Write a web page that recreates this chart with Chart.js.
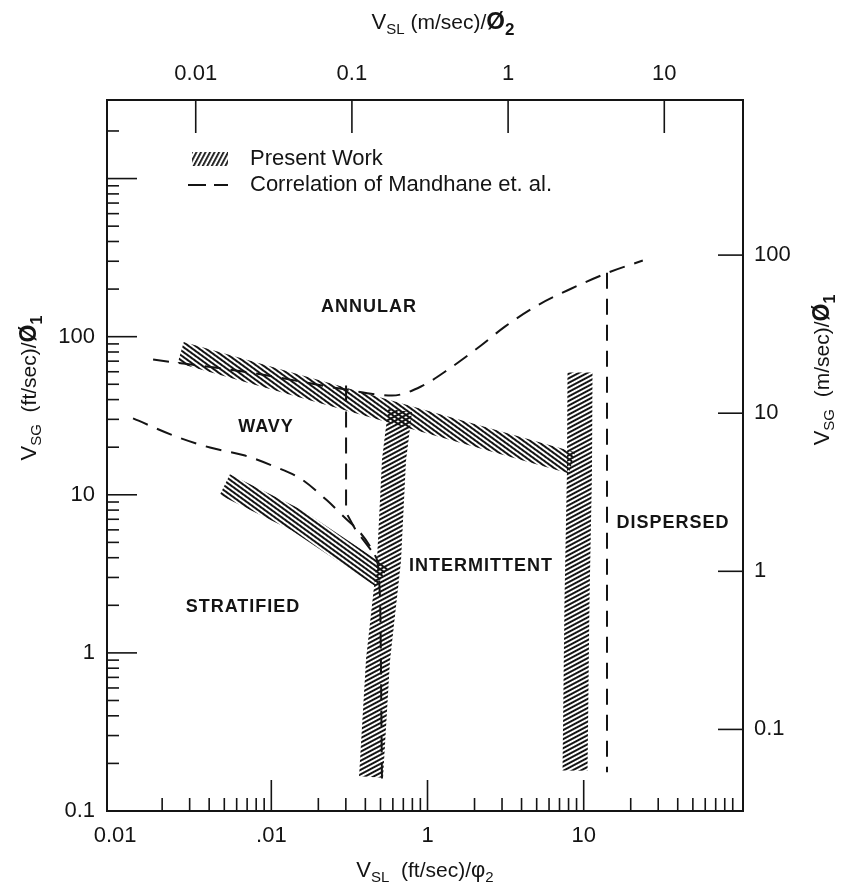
<!DOCTYPE html>
<html>
<head>
<meta charset="utf-8">
<script src="https://cdn.jsdelivr.net/npm/chart.js@4.4.1/dist/chart.umd.min.js"></script>
<style>
  html, body { margin: 0; background: #fff; }
  #wrap { width: 841px; height: 894px; }
</style>
</head>
<body>
<div id="wrap"><canvas id="c"></canvas></div>
<script>
const FT_PER_M = 3.2808;
const INK = '#141414';
const FONT = '"Liberation Sans", Arial, sans-serif';

// axis ranges (ft/sec); the m/sec axes are the same range divided by FT_PER_M
const X_MIN = 0.00887, X_MAX = 104.7;
const Y_MIN = 0.1, Y_MAX = 3140;

// tick labels
const X_TICKS = [0.01, 0.1, 1, 10];
const X_LABELS = ['0.01', '.01', '1', '10'];
const X2_TICKS = [0.01, 0.1, 1, 10];
const X2_LABELS = ['0.01', '0.1', '1', '10'];
const Y_TICKS = [0.1, 1, 10, 100];
const Y_LABELS = ['0.1', '1', '10', '100'];
const Y2_TICKS = [0.1, 1, 10, 100];
const Y2_LABELS = ['0.1', '1', '10', '100'];

// Present Work bands (ft/sec)
const bandUpperX = [0.0263, 8.41];
const bandUpperY = [79.4, 15.9];
const bandLowerX = [0.0504, 0.146, 0.511];
const bandLowerY = [11.6, 6.9, 3.02];
const bandMidX = [0.667, 0.610, 0.567, 0.482, 0.435];
const bandMidY = [34.1, 16.5, 3.86, 0.90, 0.164];
const bandRightX = [9.47, 9.40, 9.06, 8.80];
const bandRightY = [59.3, 14.3, 2.15, 0.18];

// Correlation of Mandhane et al. (dashed)
const mandTopX = [0.0175, 0.0731, 0.275, 0.592, 0.909, 1.414, 2.20, 3.13, 5.17, 8.29, 14.3, 23.9];
const mandTopY = [71.6, 59.3, 47.0, 42.4, 48.4, 63.8, 87.9, 115.8, 159.6, 201, 254, 303];
const mandWavyX = [0.01302, 0.0253, 0.0405, 0.0678, 0.101, 0.153, 0.227, 0.319, 0.461, 0.497, 0.511];
const mandWavyY = [30.4, 23.1, 19.9, 17.7, 15.3, 12.7, 9.22, 6.69, 4.14, 2.15, 0.157];
const mandSlugX = [0.301, 0.301, 0.348, 0.461];
const mandSlugY = [49.1, 7.74, 5.96, 4.14];
const mandDispX = [14.1, 14.1];
const mandDispY = [254, 0.176];

// flow regime names and where they sit (ft/sec)
const REGIONS = ['ANNULAR', 'WAVY', 'STRATIFIED', 'INTERMITTENT', 'DISPERSED'];
const REGION_X = [0.422, 0.0925, 0.0659, 2.20, 37.3];
const REGION_Y = [155, 26.7, 1.95, 3.53, 6.59];

const pts = (xs, ys) => xs.map((x, i) => ({ x, y: ys[i] }));

function hatch(angle, gap, lw) {
  const tile = document.createElement('canvas');
  tile.width = 8; tile.height = gap;
  const g = tile.getContext('2d');
  g.fillStyle = INK;
  g.fillRect(0, 0, 8, lw);
  const p = g.createPattern(tile, 'repeat');
  p.setTransform(new DOMMatrix().rotate(angle));
  return p;
}

const hatchDown = hatch(36, 4.4, 2);
const hatchUp = hatch(-28, 4.4, 2);
const hatchLegend = hatch(-62, 4.5, 1.8);

const band = (xs, ys, pattern, w) => ({
  data: pts(xs, ys),
  borderColor: pattern,
  borderWidth: w,
  borderCapStyle: 'butt',
  borderJoinStyle: 'round',
  tension: 0,
});
const dashed = (xs, ys, smooth) => ({
  data: pts(xs, ys),
  borderColor: INK,
  borderWidth: 2,
  borderDash: [16, 10],
  cubicInterpolationMode: smooth ? 'monotone' : 'default',
  tension: 0,
});

// inward tick marks on all four sides
function minors(decades, maxV) {
  const out = [];
  for (const d of decades) for (let k = 2; k <= 9; k++) if (d * k < maxV) out.push(d * k);
  return out;
}
const tickMarks = {
  id: 'tickMarks',
  afterDraw(chart) {
    const { ctx, chartArea: a, scales } = chart;
    ctx.save();
    ctx.strokeStyle = INK;
    ctx.lineWidth = 1.6;
    const mark = (x1, y1, x2, y2) => { ctx.beginPath(); ctx.moveTo(x1, y1); ctx.lineTo(x2, y2); ctx.stroke(); };
    for (const v of minors([0.01, 0.1, 1, 10], 100)) {
      const p = scales.x.getPixelForValue(v);
      mark(p, a.bottom, p, a.bottom - 13);
    }
    for (const v of [0.1, 1, 10]) {
      const p = scales.x.getPixelForValue(v);
      mark(p, a.bottom, p, a.bottom - 31);
    }
    for (const v of minors([0.1, 1, 10, 100, 1000], 2500)) {
      const p = scales.y.getPixelForValue(v);
      mark(a.left, p, a.left + 12, p);
    }
    for (const v of [1, 10, 100, 1000]) {
      const p = scales.y.getPixelForValue(v);
      mark(a.left, p, a.left + 30, p);
    }
    for (const v of X2_TICKS) {
      const p = scales.x2.getPixelForValue(v);
      mark(p, a.top, p, a.top + 33);
    }
    for (const v of Y2_TICKS) {
      const p = scales.y2.getPixelForValue(v);
      mark(a.right, p, a.right - 25, p);
    }
    ctx.restore();
  }
};

// text with subscripts, centred on (x, y), optionally rotated
function drawRich(ctx, x, y, rot, parts) {
  ctx.save();
  ctx.translate(x, y);
  ctx.rotate(rot);
  ctx.fillStyle = INK;
  ctx.textBaseline = 'alphabetic';
  ctx.textAlign = 'left';
  let w = 0;
  for (const p of parts) { ctx.font = p[1]; w += ctx.measureText(p[0]).width; }
  let cx = -w / 2;
  for (const p of parts) {
    ctx.font = p[1];
    ctx.fillText(p[0], cx, 7 + (p[2] || 0));
    cx += ctx.measureText(p[0]).width;
  }
  ctx.restore();
}

const annotations = {
  id: 'annotations',
  afterDraw(chart) {
    const { ctx, chartArea: a, scales } = chart;
    const big = `22px ${FONT}`, mid = `21px ${FONT}`, sub = `15px ${FONT}`;
    drawRich(ctx, 443, 22, 0, [['V', big], ['SL', sub, 5], [' (m/sec)/', mid], ['Ø', `bold 24px ${FONT}`], ['2', `bold 17px ${FONT}`, 6]]);
    drawRich(ctx, 425, 870, 0, [['V', big], ['SL', sub, 5], ['  (ft/sec)/', mid], ['φ', big], ['2', sub, 5]]);
    drawRich(ctx, 29, 388, -Math.PI / 2, [['V', big], ['SG', sub, 5], ['  (ft/sec)/', mid], ['Ø', `bold 23px ${FONT}`], ['1', `bold 16px ${FONT}`, 6]]);
    drawRich(ctx, 822, 370, -Math.PI / 2, [['V', big], ['SG', sub, 5], ['  (m/sec)/', mid], ['Ø', `bold 23px ${FONT}`], ['1', `bold 16px ${FONT}`, 6]]);

    // regime names
    ctx.save();
    ctx.fillStyle = INK;
    ctx.font = `bold 18px ${FONT}`;
    ctx.letterSpacing = '1px';
    ctx.textAlign = 'center';
    ctx.textBaseline = 'middle';
    REGIONS.forEach((t, i) => {
      ctx.fillText(t, scales.x.getPixelForValue(REGION_X[i]), scales.y.getPixelForValue(REGION_Y[i]));
    });
    ctx.restore();

    // legend
    ctx.save();
    const lx = a.left + 85, ly = a.top + 59;
    ctx.strokeStyle = hatchLegend;
    ctx.lineWidth = 14;
    ctx.beginPath(); ctx.moveTo(lx, ly); ctx.lineTo(lx + 36, ly); ctx.stroke();
    ctx.strokeStyle = INK;
    ctx.lineWidth = 2;
    ctx.setLineDash([18, 8]);
    ctx.beginPath(); ctx.moveTo(lx - 4, ly + 26); ctx.lineTo(lx + 36, ly + 26); ctx.stroke();
    ctx.setLineDash([]);
    ctx.fillStyle = INK;
    ctx.font = `22px ${FONT}`;
    ctx.textBaseline = 'middle';
    ctx.fillText('Present Work', lx + 58, ly);
    ctx.fillText('Correlation of Mandhane et. al.', lx + 58, ly + 26);
    ctx.restore();
  }
};

const tickFont = { family: FONT, size: 22 };
const logAxis = (position, min, max, values, labels, pad, size) => ({
  type: 'logarithmic',
  position,
  min,
  max,
  grid: { display: false },
  border: { display: true, color: INK, width: 2 },
  ticks: {
    autoSkip: false,
    maxRotation: 0,
    padding: pad,
    color: INK,
    font: tickFont,
    callback: (v, i) => labels[i],
  },
  afterBuildTicks: (s) => { s.ticks = values.map((v) => ({ value: v })); },
  afterFit: (s) => {
    if (position === 'left' || position === 'right') s.width = size; else s.height = size;
    s.paddingLeft = s.paddingRight = s.paddingTop = s.paddingBottom = 0;
  },
});

new Chart(document.getElementById('c'), {
  type: 'line',
  data: {
    datasets: [
      dashed(mandTopX, mandTopY, true),
      dashed(mandWavyX, mandWavyY, true),
      dashed(mandSlugX, mandSlugY, false),
      dashed(mandDispX, mandDispY, false),
      band(bandUpperX, bandUpperY, hatchDown, 22),
      band(bandLowerX, bandLowerY, hatchDown, 23),
      band(bandMidX, bandMidY, hatchUp, 24),
      band(bandRightX, bandRightY, hatchUp, 25),
    ].map((d) => ({ ...d, xAxisID: 'x', yAxisID: 'y', pointRadius: 0, fill: false })),
  },
  options: {
    responsive: true,
    maintainAspectRatio: false,
    animation: false,
    events: [],
    layout: { padding: 0 },
    plugins: { legend: { display: false }, tooltip: { enabled: false } },
    scales: {
      x: logAxis('bottom', X_MIN, X_MAX, X_TICKS, X_LABELS, 4, 83),
      x2: logAxis('top', X_MIN / FT_PER_M, X_MAX / FT_PER_M, X2_TICKS, X2_LABELS, 5, 100),
      y: logAxis('left', Y_MIN, Y_MAX, Y_TICKS, Y_LABELS, 4, 107),
      y2: logAxis('right', Y_MIN / FT_PER_M, Y_MAX / FT_PER_M, Y2_TICKS, Y2_LABELS, 3, 98),
    },
  },
  plugins: [tickMarks, annotations],
});
</script>
</body>
</html>
